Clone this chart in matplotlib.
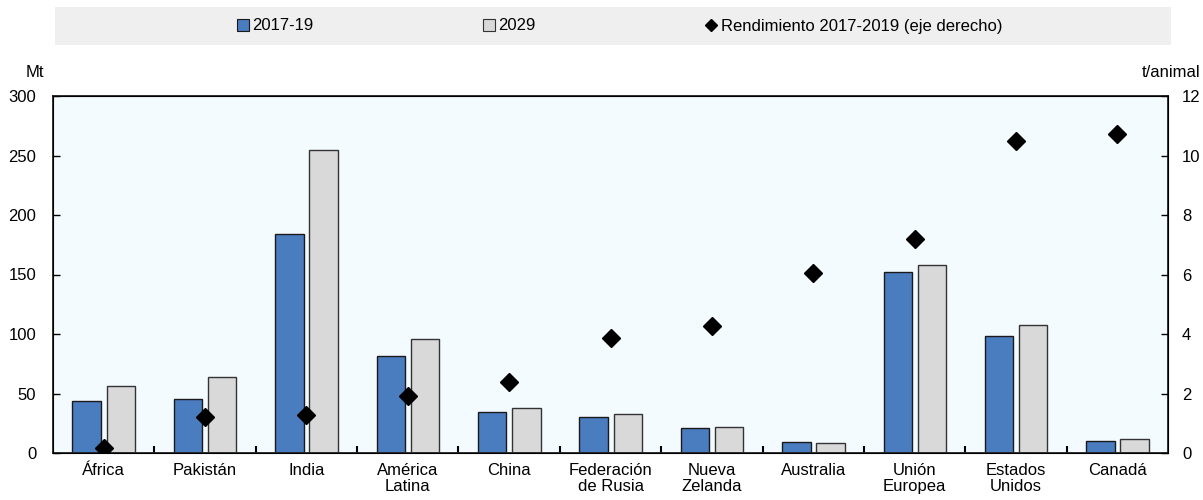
import numpy as np
import matplotlib.pyplot as plt
from matplotlib.patches import Rectangle
from matplotlib.lines import Line2D

plt.rcParams['font.family'] = ['Liberation Sans Narrow', 'Liberation Sans', 'DejaVu Sans']

categories = ['África', 'Pakistán', 'India', 'América\nLatina', 'China',
              'Federación\nde Rusia', 'Nueva\nZelanda', 'Australia',
              'Unión\nEuropea', 'Estados\nUnidos', 'Canadá']
prod_2017_19 = [44, 45.5, 184, 81.5, 34.7, 30, 21.3, 9, 152, 98.3, 10]
prod_2029 = [56.3, 63.6, 255, 96, 37.5, 32.8, 22.1, 8.4, 158, 107.6, 11.5]
rendimiento = [0.18, 1.2, 1.27, 1.93, 2.4, 3.86, 4.28, 6.04, 7.2, 10.49, 10.72]

blue = '#4a7cc0'
grey = '#d9d9d9'

fig = plt.figure(figsize=(12.03, 5.0), dpi=100)
ax = fig.add_axes([0.044, 0.094, 0.927, 0.714])
ax.set_facecolor('#f4fbff')

x = np.arange(len(categories))
w = 0.28
ax.bar(x - 0.167, prod_2017_19, w, color=blue, edgecolor='#1a1a1a', linewidth=1.0, zorder=2)
ax.bar(x + 0.17, prod_2029, w, color=grey, edgecolor='#333333', linewidth=1.0, zorder=2)

ax.set_xlim(-0.5, len(categories) - 0.5)
ax.set_ylim(0, 300)
ax.set_yticks(np.arange(0, 301, 50))
ax.set_xticks(x)
ax.set_xticklabels(categories, fontsize=12, linespacing=1.1)
ax.tick_params(axis='x', which='major', length=0, pad=7)
ax.set_xticks(np.arange(0.5, len(categories) - 1, 1), minor=True)
ax.tick_params(axis='x', which='minor', direction='in', length=5, width=1.5)
ax.tick_params(axis='y', direction='in', length=5, width=1, labelsize=12, pad=12)
for s in ax.spines.values():
    s.set_linewidth(1.3)
    s.set_color('#222222')

ax2 = ax.twinx()
ax2.plot(x, rendimiento, linestyle='none', marker='D', markersize=9,
         color='black', zorder=3)
ax2.set_ylim(0, 12)
ax2.set_yticks(np.arange(0, 13, 2))
ax2.tick_params(axis='y', direction='in', length=5, width=1, labelsize=12, pad=10)

fig.text(0.029, 0.855, 'Mt', fontsize=12, ha='center', va='center')
fig.text(0.998, 0.855, 't/animal', fontsize=12, ha='right', va='center')

# legend band
fig.patches.append(Rectangle((0.046, 0.91), 0.927, 0.076, transform=fig.transFigure,
                             facecolor='#efefef', edgecolor='none', zorder=0))
handles = [
    Rectangle((0, 0), 1, 1, facecolor=blue, edgecolor='#1a1a1a', linewidth=0.8),
    Rectangle((0, 0), 1, 1, facecolor=grey, edgecolor='#333333', linewidth=0.8),
    Line2D([], [], linestyle='none', marker='D', markersize=6, color='black'),
]
labels = ['2017-19', '2029', 'Rendimiento 2017-2019 (eje derecho)']
fig.legend(handles, labels, loc='center', bbox_to_anchor=(0.515, 0.948), ncol=3,
           frameon=False, fontsize=12, handlelength=0.7, handleheight=0.7,
           handletextpad=0.2, columnspacing=10.2)

fig.savefig('out.png', dpi=100)
